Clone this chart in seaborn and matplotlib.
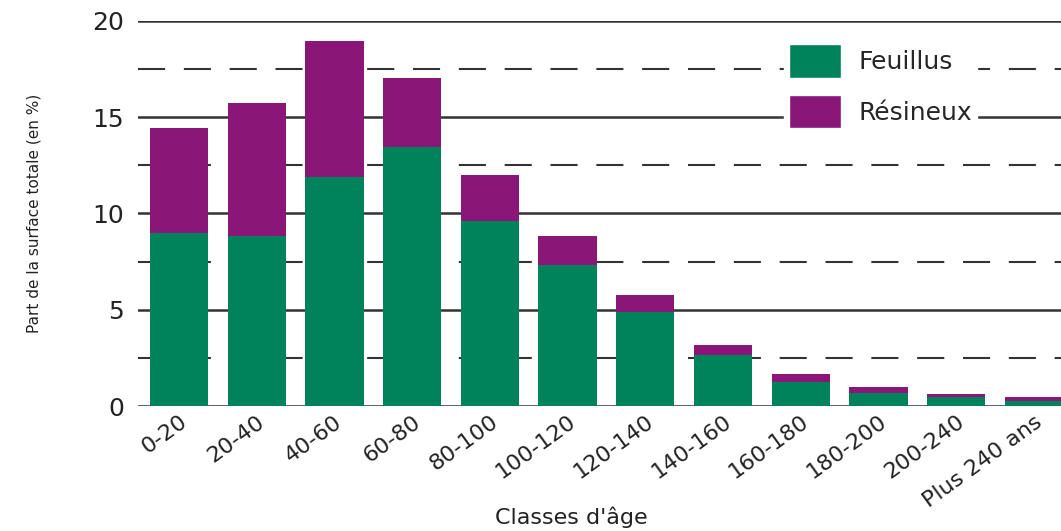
import pandas as pd
import matplotlib
matplotlib.use('Agg')
import matplotlib.pyplot as plt
import seaborn as sns
from matplotlib.patches import Patch

# Données (part de la surface totale, en %)
classes = ['0-20', '20-40', '40-60', '60-80', '80-100', '100-120', '120-140',
           '140-160', '160-180', '180-200', '200-240', 'Plus 240 ans']
feuillus = [9.0, 8.85, 11.9, 13.45, 9.6, 7.35, 4.9, 2.65, 1.25, 0.7, 0.47, 0.27]
resineux = [5.45, 6.9, 7.05, 3.6, 2.4, 1.5, 0.88, 0.52, 0.42, 0.3, 0.15, 0.2]

vert = '#00825A'
violet = '#8A1778'
gris = '#333333'
texte = '#222222'

df = pd.DataFrame({'Classe': classes, 'Feuillus': feuillus, 'Résineux': resineux})
df['Total'] = df['Feuillus'] + df['Résineux']

sns.set_style('white')
plt.rcParams['font.family'] = ['DejaVu Sans']

fig = plt.figure(figsize=(10.61, 5.31), dpi=100)
ax = fig.add_axes([0.130, 0.2354, 0.870, 0.7251])

# Barres empilées : total (résineux) puis feuillus par-dessus
sns.barplot(data=df, x='Classe', y='Total', color=violet, width=0.75,
            saturation=1, linewidth=0, ax=ax, zorder=2)
sns.barplot(data=df, x='Classe', y='Feuillus', color=vert, width=0.75,
            saturation=1, linewidth=0, ax=ax, zorder=3)

ax.set_ylim(0, 20)
ax.set_xlim(-0.53, 11.35)

# Grille : traits pleins aux graduations, tirets entre les deux
ax.set_yticks([0, 5, 10, 15, 20])
ax.set_yticks([2.5, 7.5, 12.5, 17.5], minor=True)
ax.grid(axis='y', which='major', color=gris, lw=1.8, ls='-')
ax.grid(axis='y', which='minor', color=gris, lw=1.5, ls=(0, (13, 9)))
ax.set_axisbelow(True)
for s in ax.spines.values():
    s.set_visible(False)

ax.tick_params(axis='y', which='both', length=0, pad=10, labelsize=18, labelcolor=texte)
ax.tick_params(axis='x', length=0, pad=4, labelsize=16, labelcolor=texte)
plt.setp(ax.get_xticklabels(), rotation=36, ha='right', rotation_mode='anchor')

ax.set_ylabel('Part de la surface totale (en %)', fontsize=11, color=texte,
              family=['Liberation Sans Narrow', 'DejaVu Sans'])
ax.yaxis.set_label_coords(-0.105, 0.5)
ax.set_xlabel("Classes d'âge", fontsize=16, color=texte)
ax.xaxis.set_label_coords(0.469, -0.262)

# Légende
handles = [Patch(facecolor=vert, label='Feuillus'), Patch(facecolor=violet, label='Résineux')]
leg = ax.legend(handles=handles, loc='upper left', bbox_to_anchor=(0.686, 0.985),
                fontsize=18, handlelength=2.1, handleheight=1.7, handletextpad=0.7,
                labelspacing=0.67, borderpad=0.2, frameon=True, fancybox=False)
leg.get_frame().set_facecolor('white')
leg.get_frame().set_edgecolor('white')
leg.get_frame().set_alpha(1)
leg.set_zorder(5)

fig.savefig('out.png', dpi=100)
